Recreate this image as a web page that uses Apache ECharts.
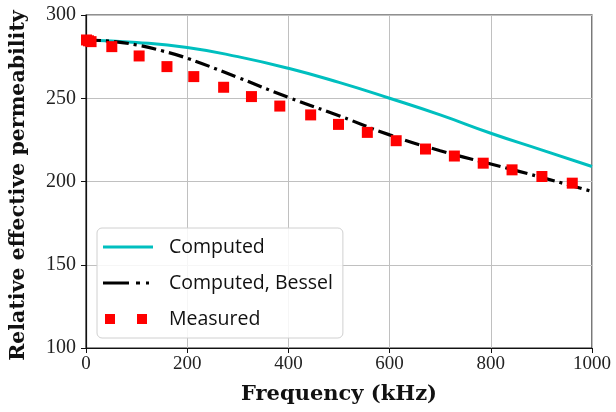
<!DOCTYPE html>
<html>
<head>
<meta charset="utf-8">
<script src="https://cdn.jsdelivr.net/npm/echarts@6/dist/echarts.min.js"></script>
<style>
  html, body { margin: 0; padding: 0; background: #fff; }
  #chart { width: 616px; height: 412px; }
</style>
</head>
<body>
<div id="chart"></div>
<script>
// Frequency sweep (kHz) and relative effective permeability
var modelFreq = [0, 100, 200, 300, 400, 500, 600, 700, 800, 900, 1000];
var computed = [285, 283.5, 280.5, 275, 268, 259.5, 250, 240, 229, 219, 209];
var besselFreq = [0, 50, 100, 150, 200, 300, 400, 500, 600, 700, 800, 900, 1000];
var computedBessel = [285, 284.2, 282, 278.5, 274, 262.5, 250.5, 239.5, 228, 218.5, 210.5, 202.5, 194];
var measuredFreq = [1, 5, 10, 51, 105, 160, 213, 272, 327, 383, 444, 499, 556, 613, 671, 728, 785, 842, 901, 961];
var measured = [285, 284.5, 284, 281, 275.4, 269, 263, 256.6, 251, 245.3, 240, 234.3, 229.5, 224.5, 219.5, 215.3, 211, 207, 203, 199];
var xTicks = [0, 200, 400, 600, 800, 1000];
var yTicks = [100, 150, 200, 250, 300];

function pairs(xs, ys) {
  return xs.map(function (x, i) { return [x, ys[i]]; });
}

var serif = '"Liberation Serif", "DejaVu Serif", serif';
var boldSerif = '"DejaVu Serif", "Liberation Serif", serif';
var sans = '"Open Sans", "DejaVu Sans", sans-serif';

var chart = echarts.init(document.getElementById('chart'), null, { renderer: 'canvas' });
chart.setOption({
  animation: false,
  backgroundColor: '#fff',
  grid: {
    left: 85, right: 24, top: 15, bottom: 64,
    show: true, borderColor: '#222', borderWidth: 1.2, backgroundColor: 'transparent'
  },
  xAxis: {
    type: 'value', min: 0, max: 1000, interval: 200,
    name: 'Frequency (kHz)', nameLocation: 'middle', nameGap: 36,
    nameTextStyle: { fontFamily: boldSerif, fontWeight: 'bold', fontSize: 21, color: '#111' },
    axisLine: { show: true, onZero: false, lineStyle: { color: '#111', width: 1.2 } },
    axisTick: { show: true, length: 5, inside: false, lineStyle: { color: '#111' } },
    axisLabel: {
      fontFamily: serif, fontSize: 19, color: '#222', margin: 7,
      formatter: function (v) { return xTicks.indexOf(v) >= 0 ? String(v) : ''; }
    },
    splitLine: { show: true, lineStyle: { color: '#c0c0c0', width: 1 } }
  },
  yAxis: {
    type: 'value', min: 100, max: 300, interval: 50,
    name: 'Relative effective permeability', nameLocation: 'middle', nameGap: 57,
    nameTextStyle: { fontFamily: boldSerif, fontWeight: 'bold', fontSize: 20.5, color: '#111', padding: [0, 8, 0, 0] },
    axisLine: { show: true, onZero: false, lineStyle: { color: '#111', width: 1.2 } },
    axisTick: { show: true, length: 5, inside: false, lineStyle: { color: '#111' } },
    axisLabel: {
      fontFamily: serif, fontSize: 20, color: '#222', margin: 10,
      formatter: function (v) { return yTicks.indexOf(v) >= 0 ? String(v) : ''; }
    },
    splitLine: { show: true, lineStyle: { color: '#c0c0c0', width: 1 } }
  },
  legend: {
    orient: 'vertical', left: 97, top: 228,
    padding: [9, 10, 9, 6],
    itemWidth: 50, itemHeight: 14, itemGap: 16,
    backgroundColor: 'rgba(255,255,255,0.85)',
    borderColor: '#d0d0d0', borderWidth: 1, borderRadius: 5,
    textStyle: { fontFamily: sans, fontSize: 19.5, color: '#111', padding: [0, 0, 0, 11] },
    data: [
      {
        name: 'Computed',
        icon: 'path://M0,0L0,0M0,5.5h50v3h-50zM50,14L50,14',
        itemStyle: { color: '#00bfbf' }
      },
      {
        name: 'Computed, Bessel',
        icon: 'path://M0,0L0,0M0,5.5h26v3h-26zM33,5.5h4v3h-4zM43,5.5h3v3h-3zM50,14L50,14',
        itemStyle: { color: '#000' }
      },
      {
        name: 'Measured',
        icon: 'path://M0,0L0,0M2,2h10v10h-10zM34,2h10v10h-10zM50,14L50,14',
        itemStyle: { color: '#ff0000' }
      }
    ]
  },
  series: [
    {
      name: 'Computed', type: 'line', smooth: true, symbol: 'none',
      data: pairs(modelFreq, computed),
      lineStyle: { color: '#00bfbf', width: 3 },
      itemStyle: { color: '#00bfbf' },
      z: 2
    },
    {
      name: 'Computed, Bessel', type: 'line', smooth: true, symbol: 'none',
      data: pairs(besselFreq, computedBessel),
      lineStyle: { color: '#000', width: 3.2, type: [15, 5, 3, 5] },
      itemStyle: { color: '#000' },
      z: 3
    },
    {
      name: 'Measured', type: 'scatter', symbol: 'rect', symbolSize: 11,
      data: pairs(measuredFreq, measured),
      itemStyle: { color: '#ff0000', opacity: 1 },
      z: 4
    }
  ]
});
</script>
</body>
</html>
